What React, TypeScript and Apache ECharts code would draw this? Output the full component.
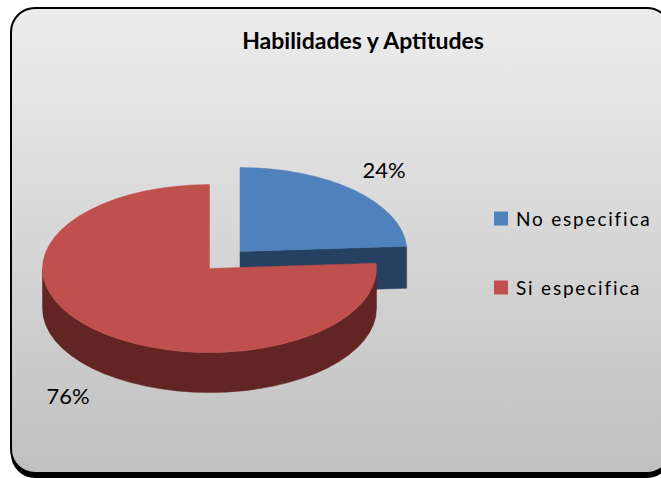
import React, { useEffect, useRef } from "react";
import * as echarts from "echarts";

const chartTitle = "Habilidades y Aptitudes";
const categories = ["No especifica", "Si especifica"];
const shares = [24, 76];
const topColors = ["#4F81BD", "#C0504D"];
const wallColors = ["#254061", "#632523"];

// Projected pie geometry: the slices are ellipses with an extrusion depth.
const RX = 167;
const RY = 84;
const DEPTHS = [42, 40];
const centers = [
  { x: 240, y: 251.5 },
  { x: 209.5, y: 268.5 },
];
const labelAnchors = [
  { x: 384, y: 169 },
  { x: 68, y: 395 },
];

const TAU = Math.PI * 2;
const total = shares.reduce((a, b) => a + b, 0);

// Screen point of a clock-wise angle measured from 12 o'clock.
function rim(cx: number, cy: number, a: number) {
  return { x: cx + RX * Math.sin(a), y: cy - RY * Math.cos(a) };
}

function sliceAngles(index: number) {
  const before = shares.slice(0, index).reduce((a, b) => a + b, 0);
  return { start: (before / total) * TAU, end: ((before + shares[index]) / total) * TAU };
}

// Elliptical arc command; sweep is 1 while the angle grows.
function arcTo(to: { x: number; y: number }, large: boolean, sweep: number) {
  return `A ${RX} ${RY} 0 ${large ? 1 : 0} ${sweep} ${to.x} ${to.y}`;
}

function topPath(i: number) {
  const c = centers[i];
  const { start, end } = sliceAngles(i);
  const p0 = rim(c.x, c.y, start);
  const p1 = rim(c.x, c.y, end);
  return `M ${c.x} ${c.y} L ${p0.x} ${p0.y} ${arcTo(p1, end - start > Math.PI, 1)} Z`;
}

// Straight cut face between the centre and one rim point.
function cutPath(i: number, a: number) {
  const c = centers[i];
  const p = rim(c.x, c.y, a);
  const d = DEPTHS[i];
  return `M ${c.x} ${c.y} L ${p.x} ${p.y} L ${p.x} ${p.y + d} L ${c.x} ${c.y + d} Z`;
}

// Outer wall on the visible (lower) half of the rim.
function wallPath(i: number) {
  const c = centers[i];
  const { start, end } = sliceAngles(i);
  const from = Math.max(start, Math.PI / 2);
  const to = Math.min(end, (3 * Math.PI) / 2);
  if (to <= from) return "";
  const d = DEPTHS[i];
  const p0 = rim(c.x, c.y, from);
  const p1 = rim(c.x, c.y, to);
  return (
    `M ${p0.x} ${p0.y} ${arcTo(p1, to - from > Math.PI, 1)} ` +
    `L ${p1.x} ${p1.y + d} ${arcTo({ x: p0.x, y: p0.y + d }, to - from > Math.PI, 0)} Z`
  );
}

function pathEl(d: string, fill: string) {
  return { type: "path", shape: { pathData: d }, style: { fill, stroke: fill, lineWidth: 0.5 } };
}

function renderSlice(i: number) {
  return () => {
    const { end } = sliceAngles(i);
    const children: any[] = [];
    // The blue slice shows its closing cut; the red slice shows its rim.
    if (i === 0) children.push(pathEl(cutPath(i, end), wallColors[i]));
    const wall = wallPath(i);
    if (wall) children.push(pathEl(wall, wallColors[i]));
    children.push(pathEl(topPath(i), topColors[i]));
    children.push({
      type: "text",
      x: labelAnchors[i].x,
      y: labelAnchors[i].y,
      style: {
        text: `${shares[i]}%`,
        fill: "#000",
        font: "22px Lato",
        align: "center",
        verticalAlign: "middle",
      },
    });
    return { type: "group", children };
  };
}

export default function App() {
  const ref = useRef<HTMLDivElement>(null);

  useEffect(() => {
    const chart = echarts.init(ref.current!, null, { renderer: "svg" });
    chart.setOption({
      animation: false,
      title: {
        text: chartTitle,
        left: 358,
        top: 23,
        textAlign: "center",
        textStyle: { fontFamily: "Lato", fontWeight: "bold", fontSize: 23, color: "#000" },
      },
      legend: {
        orient: "vertical",
        left: 489,
        top: 204,
        itemWidth: 14,
        itemHeight: 14,
        itemGap: 50,
        icon: "rect",
        data: categories,
        textStyle: { fontFamily: "Lato", fontSize: 19, color: "#000", padding: [0, 0, 0, 3] },
      },
      graphic: [
        {
          type: "rect",
          silent: true,
          shape: { x: 11, y: 13, width: 660, height: 465, r: 24 },
          style: { fill: "#000" },
        },
        {
          type: "rect",
          silent: true,
          shape: { x: 11, y: 8, width: 660, height: 465, r: 24 },
          style: {
            stroke: "#000",
            lineWidth: 2,
            fill: new echarts.graphic.LinearGradient(0, 0, 0, 1, [
              { offset: 0, color: "#EDEDED" },
              { offset: 1, color: "#C0C0C0" },
            ]),
          },
        },
      ],
      series: categories.map((name, i) => ({
        type: "custom",
        name,
        coordinateSystem: "none",
        color: topColors[i],
        z: i + 2,
        data: [shares[i]],
        renderItem: renderSlice(i),
      })),
    });

    // Legend captions are set with open tracking.
    ref.current!.querySelectorAll("text").forEach((t) => {
      if (categories.includes(t.textContent || "")) t.setAttribute("letter-spacing", "1.8");
    });

    return () => chart.dispose();
  }, []);

  return <div ref={ref} style={{ position: "absolute", left: 0, top: 0, width: 661, height: 478 }} />;
}
